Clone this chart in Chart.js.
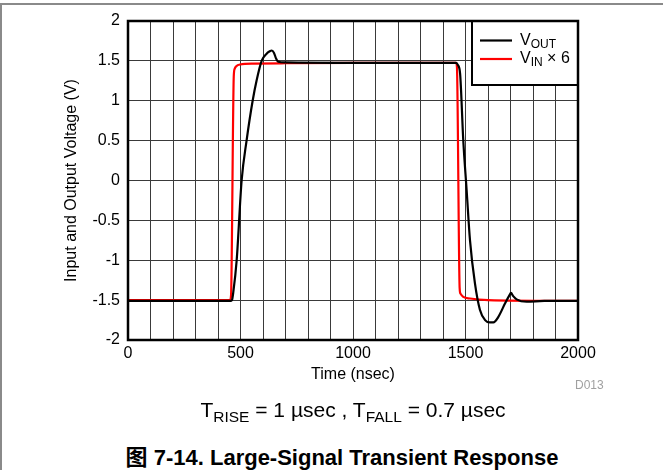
<!DOCTYPE html>
<html>
<head>
<meta charset="utf-8">
<script src="https://cdn.jsdelivr.net/npm/chart.js@4/dist/chart.umd.min.js"></script>
<style>
  html, body { margin: 0; padding: 0; background: #fff; }
  body { width: 663px; height: 470px; position: relative; overflow: hidden;
         font-family: "Liberation Sans", Arial, "Noto Sans CJK SC", sans-serif; }
  #frame { position: absolute; left: 0; top: 3px; width: 700px; height: 500px;
           border-top: 2px solid #8a8a8a; border-left: 2px solid #8a8a8a; box-sizing: border-box; }
  #c { position: absolute; left: 0; top: 0; }
  #sub { position: absolute; top: 398px; left: 153px; width: 400px; text-align: center;
         font-size: 21px; color: #000; white-space: nowrap; }
  #sub span.s { font-size: 15.5px; position: relative; top: 5px; }
  #title { position: absolute; top: 439px; left: 92px; width: 500px; text-align: center;
           font-size: 22px; font-weight: bold; color: #000; white-space: nowrap; }
  #code { position: absolute; left: 575px; top: 378px; font-size: 12px; color: #a0a0a0; }
</style>
</head>
<body>
<div id="frame"></div>
<canvas id="c" width="663" height="400"></canvas>
<div id="code">D013</div>
<div id="sub">T<span class="s">RISE</span> = 1 µsec , T<span class="s">FALL</span> = 0.7 µsec</div>
<div id="title">图 7-14. Large-Signal Transient Response</div>
<script>
// ---- data (time in nsec, voltage in V) ----
const voutT = [0, 455, 462, 468, 483, 505, 527, 554, 572, 594, 616, 630, 639, 649, 658, 668, 700, 1000, 1300, 1458, 1466, 1476, 1490, 1505, 1520, 1542, 1564, 1587, 1608, 1624, 1646, 1676, 1695, 1702, 1712, 1727, 1772, 1850, 2000];
const voutV = [-1.51, -1.51, -1.50, -1.40, -1.00, 0.00, 0.50, 1.00, 1.26, 1.50, 1.59, 1.62, 1.63, 1.60, 1.53, 1.49, 1.48, 1.475, 1.475, 1.475, 1.45, 1.34, 0.51, -0.12, -0.75, -1.29, -1.62, -1.75, -1.78, -1.78, -1.71, -1.54, -1.44, -1.41, -1.45, -1.49, -1.52, -1.51, -1.51];

const vinT = [0, 453, 458, 470, 474, 480, 498, 560, 700, 1000, 1300, 1458, 1462, 1474, 1478, 1490, 1520, 1600, 2000];
const vinV = [-1.50, -1.50, -1.44, 1.30, 1.40, 1.43, 1.455, 1.465, 1.47, 1.475, 1.475, 1.475, 1.42, -1.35, -1.42, -1.46, -1.48, -1.50, -1.51];

const xTickLabels = [0, 500, 1000, 1500, 2000];
const yTickLabels = ['-2', '-1.5', '-1', '-0.5', '0', '0.5', '1', '1.5', '2'];
const seriesNames = [['V', 'OUT', ''], ['V', 'IN', ' \u00d7 6']];
const seriesColors = ['#000000', '#ff0000'];

const toPts = (t, v) => t.map((x, i) => ({ x: x, y: v[i] }));

const frameAndLegend = {
  id: 'frameAndLegend',
  afterDatasetsDraw(chart) {
    const ctx = chart.ctx;
    const a = chart.chartArea;
    ctx.save();
    // legend box
    const lx = 472, ly = a.top, lw = a.right - 472, lh = 64;
    ctx.fillStyle = '#fff';
    ctx.fillRect(lx, ly, lw, lh);
    ctx.strokeStyle = '#000';
    ctx.lineWidth = 2;
    ctx.strokeRect(lx, ly, lw, lh);
    const rows = [a.top + 19.5, a.top + 38];
    seriesNames.forEach((n, i) => {
      const y = rows[i];
      ctx.strokeStyle = seriesColors[i];
      ctx.lineWidth = 2.2;
      ctx.beginPath(); ctx.moveTo(480, y); ctx.lineTo(512, y); ctx.stroke();
      ctx.fillStyle = '#000';
      ctx.textBaseline = 'middle';
      ctx.font = '16px "Liberation Sans", Arial, sans-serif';
      let x = 520;
      ctx.fillText(n[0], x, y);
      x += ctx.measureText(n[0]).width;
      ctx.font = '12px "Liberation Sans", Arial, sans-serif';
      ctx.fillText(n[1], x, y + 4);
      x += ctx.measureText(n[1]).width;
      ctx.font = '16px "Liberation Sans", Arial, sans-serif';
      ctx.fillText(n[2], x, y);
    });
    // plot frame
    ctx.strokeStyle = '#000';
    ctx.lineWidth = 2.5;
    ctx.strokeRect(a.left, a.top, a.right - a.left, a.bottom - a.top);
    ctx.restore();
  }
};

new Chart(document.getElementById('c'), {
  type: 'line',
  data: {
    datasets: [
      { label: 'VOUT', data: toPts(voutT, voutV), borderColor: seriesColors[0], borderWidth: 2.2,
        pointRadius: 0, cubicInterpolationMode: 'monotone' },
      { label: 'VIN x 6', data: toPts(vinT, vinV), borderColor: seriesColors[1], borderWidth: 2.2,
        pointRadius: 0, cubicInterpolationMode: 'monotone' }
    ]
  },
  options: {
    responsive: false,
    animation: false,
    devicePixelRatio: 1,
    layout: { padding: { top: 21, right: 85, left: 0, bottom: 0 } },
    plugins: { legend: { display: false }, tooltip: { enabled: false } },
    scales: {
      x: {
        type: 'linear', min: 0, max: 2000,
        afterFit: s => { s.height = 60; },
        ticks: { stepSize: 100, autoSkip: false, maxRotation: 0, padding: 4, color: '#000',
                 font: { size: 16, family: '"Liberation Sans", Arial, sans-serif' },
                 callback: v => xTickLabels.includes(v) ? String(v) : '' },
        grid: { color: '#3a3a3a', lineWidth: 1, drawTicks: false },
        border: { display: false },
        title: { display: true, text: 'Time (nsec)', color: '#000',
                 font: { size: 16, family: '"Liberation Sans", Arial, sans-serif' },
                 padding: { top: 0, bottom: 16 } }
      },
      y: {
        min: -2, max: 2,
        afterFit: s => { s.width = 128; },
        ticks: { stepSize: 0.5, padding: 8, color: '#000',
                 font: { size: 16, family: '"Liberation Sans", Arial, sans-serif' },
                 callback: v => yTickLabels[Math.round((v + 2) / 0.5)] },
        grid: { color: '#3a3a3a', lineWidth: 1, drawTicks: false },
        border: { display: false },
        title: { display: true, text: 'Input and Output Voltage (V)', color: '#000',
                 font: { size: 16, family: '"Liberation Sans", Arial, sans-serif' },
                 padding: { top: 62, bottom: 0 } }
      }
    }
  },
  plugins: [frameAndLegend]
});
</script>
</body>
</html>
